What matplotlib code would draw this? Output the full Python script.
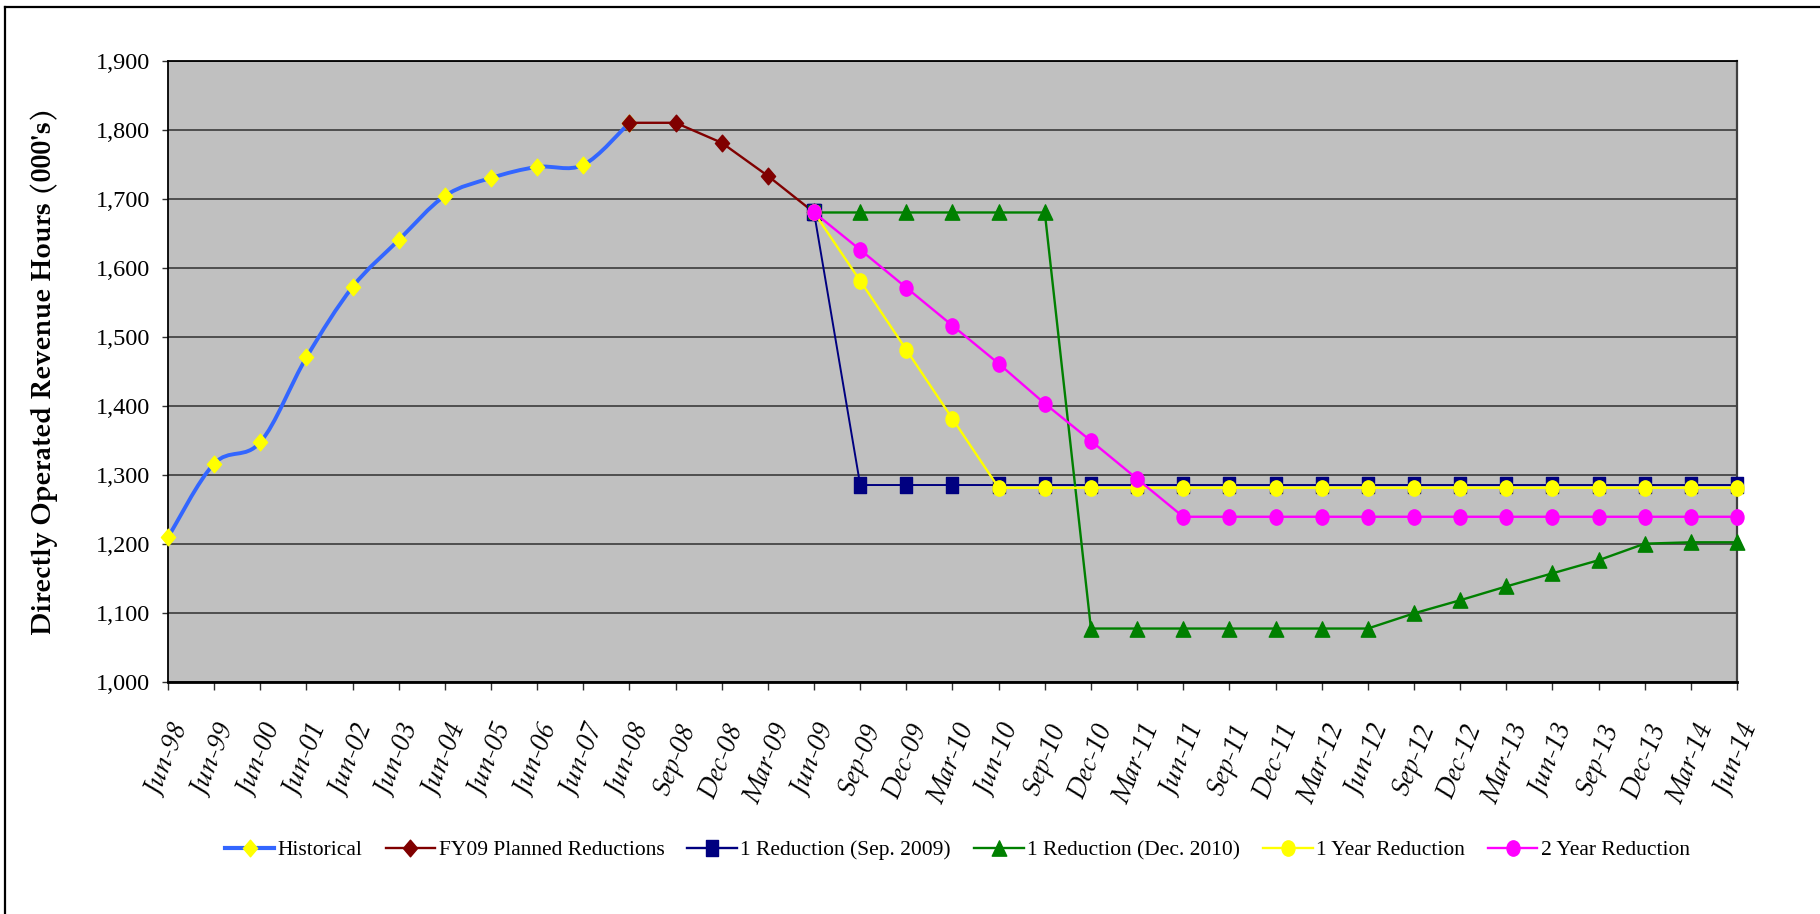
import numpy as np
import matplotlib
matplotlib.use("Agg")
import matplotlib.pyplot as plt
from matplotlib.path import Path
from matplotlib.patches import PathPatch
from matplotlib.lines import Line2D
from matplotlib.ticker import FuncFormatter, MultipleLocator
from matplotlib.transforms import Affine2D

nan = np.nan

# eixo das categorias (trimestres / anos fiscais)
periodos = ['Jun-98', 'Jun-99', 'Jun-00', 'Jun-01', 'Jun-02', 'Jun-03', 'Jun-04',
            'Jun-05', 'Jun-06', 'Jun-07', 'Jun-08', 'Sep-08', 'Dec-08', 'Mar-09',
            'Jun-09', 'Sep-09', 'Dec-09', 'Mar-10', 'Jun-10', 'Sep-10', 'Dec-10',
            'Mar-11', 'Jun-11', 'Sep-11', 'Dec-11', 'Mar-12', 'Jun-12', 'Sep-12',
            'Dec-12', 'Mar-13', 'Jun-13', 'Sep-13', 'Dec-13', 'Mar-14', 'Jun-14']

# horas de serviço (milhares)
historico = [1209, 1316, 1347, 1470, 1572, 1640, 1704, 1730, 1746, 1749, 1810,
             nan, nan, nan, nan, nan, nan, nan, nan, nan, nan, nan, nan, nan,
             nan, nan, nan, nan, nan, nan, nan, nan, nan, nan, nan]
fy09 = [nan, nan, nan, nan, nan, nan, nan, nan, nan, nan, 1810,
        1810, 1781, 1733, 1680, nan, nan, nan, nan, nan, nan, nan, nan, nan,
        nan, nan, nan, nan, nan, nan, nan, nan, nan, nan, nan]
red_set09 = [nan, nan, nan, nan, nan, nan, nan, nan, nan, nan, nan,
             nan, nan, nan, 1680, 1285, 1285, 1285, 1285, 1285, 1285, 1285, 1285, 1285,
             1285, 1285, 1285, 1285, 1285, 1285, 1285, 1285, 1285, 1285, 1285]
red_dez10 = [nan, nan, nan, nan, nan, nan, nan, nan, nan, nan, nan,
             nan, nan, nan, 1680, 1680, 1680, 1680, 1680, 1680, 1077, 1077, 1077, 1077,
             1077, 1077, 1077, 1099, 1118, 1138, 1157, 1176, 1200, 1202, 1202]
red_1ano = [nan, nan, nan, nan, nan, nan, nan, nan, nan, nan, nan,
            nan, nan, nan, 1680, 1581, 1481, 1381, 1281, 1281, 1281, 1281, 1281, 1281,
            1281, 1281, 1281, 1281, 1281, 1281, 1281, 1281, 1281, 1281, 1281]
red_2anos = [nan, nan, nan, nan, nan, nan, nan, nan, nan, nan, nan,
             nan, nan, nan, 1680, 1626, 1571, 1516, 1461, 1403, 1349, 1294, 1239, 1239,
             1239, 1239, 1239, 1239, 1239, 1239, 1239, 1239, 1239, 1239, 1239]

legendas = ['Historical', 'FY09 Planned Reductions', '1 Reduction (Sep. 2009)',
            '1 Reduction (Dec. 2010)', '1 Year Reduction', '2 Year Reduction']

x = np.arange(len(periodos))

# marcadores ligeiramente mais altos do que largos
esq = 0.85
m_losango = Path([(0, 1), (esq, 0), (0, -1), (-esq, 0), (0, 1)], closed=True)
m_quadrado = Path([(-esq, -1), (esq, -1), (esq, 1), (-esq, 1), (-esq, -1)], closed=True)
m_triangulo = Path([(0, 1), (0.95, -1), (-0.95, -1), (0, 1)], closed=True)
m_circulo = Path.unit_circle().transformed(Affine2D().scale(esq, 1.0))

fig = plt.figure(figsize=(18.2, 9.14), dpi=100)
ax = fig.add_axes([0.0923, 0.2542, 0.8621, 0.6794])
ax.set_facecolor('#C0C0C0')


def curva_suave(xs, ys):
    # curva de Bezier tipo Catmull-Rom (linha suavizada)
    p = np.column_stack([xs, ys])
    verts = [p[0]]
    codes = [Path.MOVETO]
    n = len(p)
    for i in range(n - 1):
        p0 = p[max(i - 1, 0)]
        p1 = p[i]
        p2 = p[i + 1]
        p3 = p[min(i + 2, n - 1)]
        verts += [p1 + (p2 - p0) / 6.0, p2 - (p3 - p1) / 6.0, p2]
        codes += [Path.CURVE4, Path.CURVE4, Path.CURVE4]
    return Path(verts, codes)


h = np.array(historico)
ok = ~np.isnan(h)
ax.add_patch(PathPatch(curva_suave(x[ok], h[ok]), facecolor='none',
                       edgecolor='#3366FF', lw=2.8, zorder=3, capstyle='round'))
ax.plot(x, historico, ls='none', marker=m_losango, ms=12, color='#FFFF00',
        mec='#FFFF00', zorder=4, clip_on=False)

ax.plot(x, fy09, '-', color='#800000', lw=1.7, marker=m_losango, ms=12,
        mec='#800000', zorder=5, clip_on=False)
ax.plot(x, red_set09, '-', color='#000080', lw=1.4, marker=m_quadrado, ms=11,
        mec='#000080', zorder=5, clip_on=False)
ax.plot(x, red_dez10, '-', color='#008000', lw=1.7, marker=m_triangulo, ms=11,
        mec='#008000', zorder=5, clip_on=False, markevery=list(range(15, 35)))
ax.plot(x, red_dez10, ls='none', marker=m_quadrado, ms=12, mfc='#008000',
        mec='#000080', mew=1, zorder=5, markevery=[14])
ax.plot(x, red_1ano, '-', color='#FFFF00', lw=1.7, marker=m_circulo, ms=11,
        mec='#FFFF00', zorder=6, clip_on=False)
ax.plot(x, red_2anos, '-', color='#FF00FF', lw=1.7, marker=m_circulo, ms=11,
        mec='#FF00FF', zorder=7, clip_on=False)

# eixos
ax.set_xlim(0, len(periodos) - 1)
ax.set_ylim(1000, 1900)
ax.yaxis.set_major_locator(MultipleLocator(100))
ax.yaxis.set_major_formatter(FuncFormatter(lambda v, p: '{:,.0f}'.format(v)))
ax.grid(axis='y', color='#303030', lw=1.1, zorder=1)
ax.set_axisbelow(True)

ax.set_xticks(x)
ax.set_xticklabels(periodos, rotation=68, ha='center', va='top',
                   family='TeX Gyre Pagella', style='italic', fontsize=19.5)
ax.tick_params(axis='x', direction='out', length=6, width=1, color='#303030', pad=21)
ax.tick_params(axis='y', direction='out', length=4, width=1, color='#303030', pad=9)
for t in ax.get_yticklabels():
    t.set_family('Liberation Serif')
    t.set_fontsize(17.5)

for lado, cor, lw in [('top', 'black', 1.3), ('left', 'black', 1.3),
                      ('right', '#404040', 1.6), ('bottom', 'black', 2.0)]:
    ax.spines[lado].set_color(cor)
    ax.spines[lado].set_linewidth(lw)

ax.set_ylabel("Directly Operated Revenue Hours (000's)", family='TeX Gyre Pagella',
              fontweight='bold', fontsize=20)
ax.yaxis.set_label_coords(-0.070, 0.5)

# legenda
estilos = [
    dict(color='#3366FF', lw=3, marker=m_losango, ms=12, mfc='#FFFF00', mec='#FFFF00'),
    dict(color='#800000', lw=1.7, marker=m_losango, ms=12, mfc='#800000', mec='#800000'),
    dict(color='#000080', lw=1.7, marker=m_quadrado, ms=11, mfc='#000080', mec='#000080'),
    dict(color='#008000', lw=1.7, marker=m_triangulo, ms=11, mfc='#008000', mec='#008000'),
    dict(color='#FFFF00', lw=1.7, marker=m_circulo, ms=11, mfc='#FFFF00', mec='#FFFF00'),
    dict(color='#FF00FF', lw=1.7, marker=m_circulo, ms=11, mfc='#FF00FF', mec='#FF00FF'),
]
handles = [Line2D([], [], **e) for e in estilos]
fig.legend(handles, legendas, loc='center', bbox_to_anchor=(0.526, 1 - 850 / 914),
           ncol=6, frameon=False, handlelength=2.3, handletextpad=0.16,
           columnspacing=1.07, prop={'family': 'Liberation Serif', 'size': 15.5})

# moldura exterior (topo e esquerda)
fig.add_artist(Line2D([5 / 1820, 1.0], [1 - 7 / 914, 1 - 7 / 914], color='black',
                      lw=1.6, transform=fig.transFigure))
fig.add_artist(Line2D([5 / 1820, 5 / 1820], [0, 1 - 7 / 914], color='black',
                      lw=1.6, transform=fig.transFigure))

fig.savefig('out.png', dpi=100)
